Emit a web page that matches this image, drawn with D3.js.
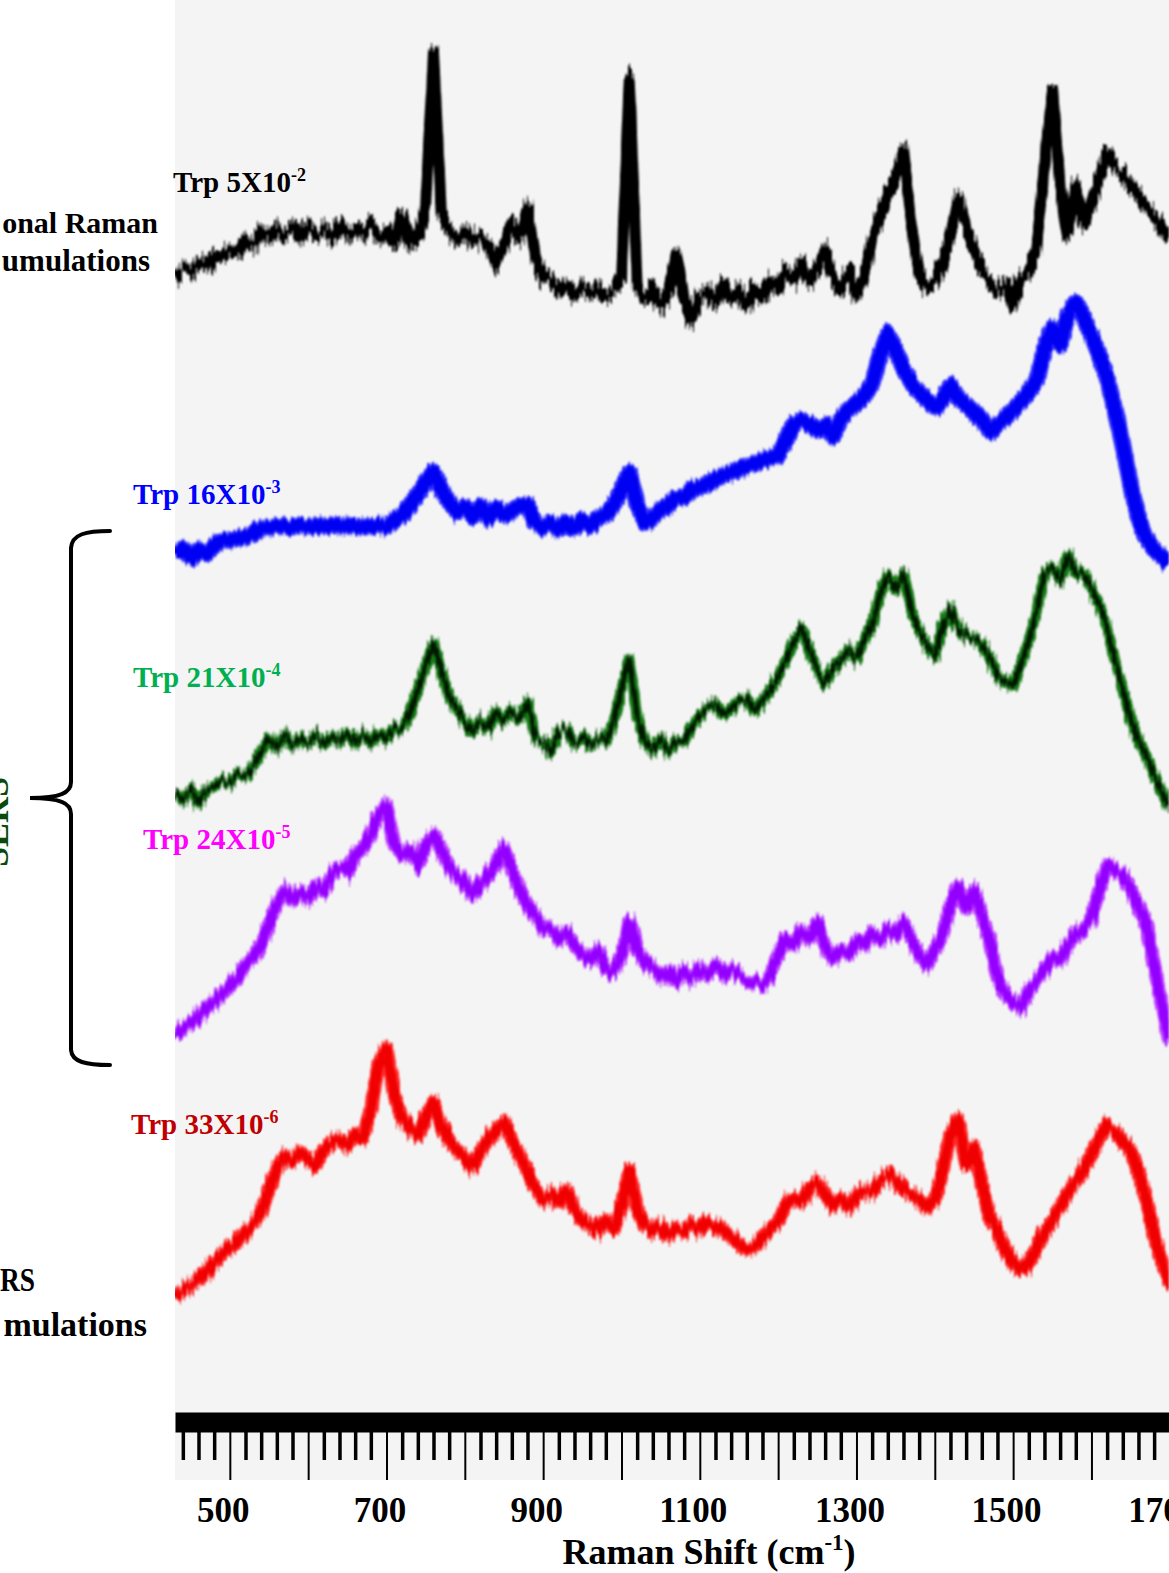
<!DOCTYPE html>
<html lang="en">
  <head>
    <meta charset="utf-8">
    <title>Trp: conventional Raman vs SERS</title>
    <script src="https://cdn.jsdelivr.net/npm/d3@7"></script>
    <style>
      body { margin: 0; background: #fff; }
      svg { display: block; font-family: "Liberation Serif", "Times New Roman", serif; font-weight: bold; }
    </style>
  </head>
  <body>
    <script type="text/javascript">
      // Raman shift grid (cm-1), one sample every 10 cm-1
      var shift = d3.range(430, 1701, 10);

      // intensities (a.u., stacked with offsets as in the figure)
      var trp5e2 = [1205,1212,1208,1218,1214,1225,1222,1230,1228,1238,1234,1248,1242,1254,1244,1252,1242,1255,1244,1250,
        1240,1254,1242,1252,1244,1256,1242,1250,1236,1267,1235,1242,1275,1428,1265,1248,1240,1252,1238,1244,
        1234,1215,1235,1260,1242,1273,1225,1200,1202,1188,1196,1184,1194,1186,1190,1182,1192,1200,1405,1195,
        1180,1192,1174,1188,1227,1180,1160,1184,1190,1176,1198,1180,1188,1174,1192,1182,1198,1190,1210,1200,
        1218,1198,1212,1230,1204,1190,1208,1184,1205,1240,1265,1285,1300,1330,1255,1205,1192,1200,1218,1245,
        1282,1255,1230,1210,1198,1188,1195,1175,1202,1208,1233,1315,1392,1295,1245,1295,1255,1275,1305,1328,
        1312,1308,1295,1285,1272,1262,1252,1240];
      var trp16e3 = [925,932,922,930,926,934,940,940,942,943,946,952,953,953,954,953,954,953,954,953,
        954,953,954,953,954,953,954,954,960,965,975,985,998,1008,990,978,968,973,964,974,
        962,972,964,970,974,975,958,952,956,950,958,952,960,954,962,965,975,990,1008,975,
        958,962,970,975,982,983,990,993,996,1002,1004,1007,1010,1014,1016,1020,1022,1025,1040,1055,
        1060,1056,1050,1055,1043,1062,1070,1077,1084,1095,1125,1147,1130,1110,1097,1088,1080,1072,1080,1095,
        1082,1075,1068,1060,1048,1055,1062,1070,1078,1088,1100,1130,1152,1135,1165,1178,1162,1145,1125,1102,
        1070,1035,995,962,942,930,923,916];
      var trp21e4 = [687,680,690,677,690,694,700,696,706,704,714,728,742,732,744,734,742,736,746,735,
        744,738,746,736,745,737,746,740,750,752,768,790,815,837,808,783,772,758,748,760,
        750,768,758,770,762,778,742,738,728,748,750,736,744,734,742,738,760,790,820,765,
        738,730,742,728,740,738,752,764,772,776,765,772,780,782,768,780,790,805,820,838,
        852,830,810,796,812,820,830,822,840,855,885,905,890,908,870,850,835,824,852,872,
        852,843,842,835,822,805,798,794,815,840,870,905,912,900,925,910,905,892,875,852,
        818,790,762,740,724,705,687,672];
      var trp24e5 = [445,452,458,464,472,478,486,495,502,515,522,536,555,575,590,580,588,582,594,588,
        605,612,608,625,632,645,665,675,635,625,630,614,635,646,630,614,605,595,585,595,
        605,618,632,610,590,575,565,552,550,540,546,535,525,520,530,512,508,525,558,530,
        518,510,502,508,498,510,502,512,505,514,504,512,505,502,498,495,505,525,542,535,
        550,542,558,535,520,530,525,540,535,545,540,550,545,558,542,525,515,530,545,575,
        595,570,590,565,540,502,485,478,472,490,500,510,522,520,535,545,552,562,590,615,
        610,605,590,575,555,515,475,438];
      var trp33e6 = [183,190,195,200,208,218,226,232,238,248,256,268,290,312,324,318,328,320,314,330,
        338,340,334,345,342,370,415,432,385,362,352,344,362,378,355,340,330,322,314,328,
        340,348,358,340,325,308,292,280,285,278,290,270,260,255,248,258,252,275,310,270,
        255,248,254,244,252,248,255,250,258,255,248,242,236,230,234,242,252,258,275,282,
        278,292,298,285,275,282,272,284,290,288,300,305,298,290,286,280,272,280,310,345,
        360,315,332,295,265,248,230,218,210,218,232,248,260,272,288,300,310,325,342,354,
        348,338,330,308,280,245,218,195];

      var seriesNames = ["Trp 5X10-2", "Trp 16X10-3", "Trp 21X10-4", "Trp 24X10-5", "Trp 33X10-6"];
      var seriesValues = [trp5e2, trp16e3, trp21e4, trp24e5, trp33e6];

      // axis ticks
      var majorTicks = d3.range(500, 1701, 100);
      var minorTicks = d3.range(440, 1700, 20).filter(function (d) { return d % 100 !== 0; });
      var tickLabels = [500, 700, 900, 1100, 1300, 1500, 1700];

      "use strict";
      var width = 1169, height = 1573;

      var svg = d3.select("body")
        .append("svg")
          .attr("width", width)
          .attr("height", height);

      var x = d3.scaleLinear().domain([430, 1699]).range([175, 1169]);
      var y = d3.scaleLinear().domain([0, 1480]).range([1480, 0]);

      var defs = svg.append("defs");
      defs.append("clipPath").attr("id", "plotclip")
        .append("rect").attr("x", 175).attr("y", 0).attr("width", 994).attr("height", 1480);

      // detector-noise look: jitter the drawn trace vertically only, then soften
      function noiseFilter(id, amount, seed) {
        var f = defs.append("filter").attr("id", id)
          .attr("filterUnits", "userSpaceOnUse")
          .attr("x", 0).attr("y", 0).attr("width", width).attr("height", height)
          .attr("color-interpolation-filters", "sRGB");
        f.append("feTurbulence")
          .attr("type", "fractalNoise")
          .attr("baseFrequency", "0.55 0.02")
          .attr("numOctaves", 2)
          .attr("seed", seed)
          .attr("result", "n");
        f.append("feColorMatrix")
          .attr("in", "n").attr("type", "matrix")
          .attr("values", "0 0 0 0 0.5  0 1 0 0 0  0 0 0 0 0  0 0 0 0 1")
          .attr("result", "m");
        f.append("feDisplacementMap")
          .attr("in", "SourceGraphic").attr("in2", "m")
          .attr("scale", amount)
          .attr("xChannelSelector", "R").attr("yChannelSelector", "G")
          .attr("result", "d");
        f.append("feGaussianBlur").attr("in", "d").attr("stdDeviation", 0.9);
      }
      noiseFilter("noise0", 30, 2);
      noiseFilter("noise1", 12, 5);
      noiseFilter("noise2", 22, 7);
      noiseFilter("noise3", 22, 11);
      noiseFilter("noise4", 22, 13);

      // grey plot panel
      svg.append("rect")
        .attr("x", 175).attr("y", 0)
        .attr("width", 994).attr("height", 1480)
        .attr("fill", "#f4f4f4");

      /*
        spectra
        */
      var strokes = [
        [{ c: "#000", w: 11 }],
        [{ c: "#3030ff", w: 17 }, { c: "#0000f2", w: 12 }],
        [{ c: "#167a16", w: 11 }, { c: "#001800", w: 5 }],
        [{ c: "#bd40ff", w: 14 }, { c: "#9300ff", w: 9 }],
        [{ c: "#ff2c2c", w: 14 }, { c: "#f00000", w: 9 }]
      ];

      var line = d3.line()
        .x(function (d) { return x(d[0]); })
        .y(function (d) { return y(d[1]); });

      var plot = svg.append("g").attr("clip-path", "url(#plotclip)");

      seriesValues.forEach(function (vals, i) {
        var pts = shift.map(function (s, k) { return [s, vals[k]]; });
        var g = plot.append("g").attr("filter", "url(#noise" + i + ")");
        strokes[i].forEach(function (st) {
          g.append("path")
            .datum(pts)
            .attr("fill", "none")
            .attr("stroke", st.c)
            .attr("stroke-width", st.w)
            .attr("stroke-linejoin", "round")
            .attr("d", line);
        });
      });

      /*
        bottom axis: heavy bar, minor + major ticks
        */
      var axisG = svg.append("g").attr("transform", "translate(0,1422)");

      axisG.append("g")
        .call(d3.axisBottom(x).tickValues(minorTicks).tickSize(38).tickFormat(""))
        .call(function (g) { g.select(".domain").remove(); })
        .selectAll("line")
          .attr("stroke", "#000")
          .attr("stroke-width", 3.5);

      var major = axisG.append("g")
        .call(d3.axisBottom(x).tickValues(majorTicks).tickSize(58).tickSizeOuter(0)
          .tickFormat(function (d) { return tickLabels.indexOf(d) >= 0 ? d : ""; }));
      major.select(".domain")
        .attr("stroke", "#000")
        .attr("stroke-width", 20);
      major.selectAll("line").attr("stroke", "#000").attr("stroke-width", 2);
      major.selectAll("text")
        .attr("y", 100)
        .attr("dy", 0)
        .attr("dx", -7)
        .attr("fill", "#000")
        .style("font-family", "'Liberation Serif', 'Times New Roman', serif")
        .style("font-weight", "bold")
        .style("font-size", "35px");

      // axis title
      var title = svg.append("text")
        .attr("x", 709).attr("y", 1564)
        .attr("text-anchor", "middle")
        .style("font-size", "36px");
      title.append("tspan").text("Raman Shift (cm");
      title.append("tspan").attr("dy", -14).style("font-size", "23px").text("-1");
      title.append("tspan").attr("dy", 14).text(")");

      /*
        series labels with superscript exponents
        */
      var labelSpots = [
        { x: 173, y: 192, c: "#000000" },
        { x: 133, y: 504, c: "#0000ff" },
        { x: 133, y: 687, c: "#00b050" },
        { x: 143, y: 849, c: "#ff00ff" },
        { x: 131, y: 1134, c: "#c00000" }
      ];
      seriesNames.forEach(function (name, i) {
        var parts = name.split("-");
        var t = svg.append("text")
          .attr("x", labelSpots[i].x).attr("y", labelSpots[i].y)
          .attr("fill", labelSpots[i].c)
          .style("font-size", "29px");
        t.append("tspan").text(parts[0]);
        t.append("tspan").attr("dy", -11).style("font-size", "18px").text("-" + parts[1]);
      });

      /*
        left-side annotations (figure is cropped at the left edge)
        */
      svg.append("text").attr("x", 158).attr("y", 233).attr("text-anchor", "end")
        .style("font-size", "30px").text("onal Raman");
      svg.append("text").attr("x", 150).attr("y", 271).attr("text-anchor", "end")
        .style("font-size", "31px").text("umulations");
      svg.append("text").attr("x", 0).attr("y", 1291)
        .attr("textLength", 35).attr("lengthAdjust", "spacingAndGlyphs")
        .style("font-size", "34px").text("RS");
      svg.append("text").attr("x", 147).attr("y", 1336).attr("text-anchor", "end")
        .style("font-size", "34px").text("mulations");
      svg.append("text")
        .attr("transform", "translate(8,822) rotate(-90)")
        .attr("text-anchor", "middle")
        .attr("fill", "#0a4a0a")
        .style("font-size", "36px")
        .text("SERS");

      // curly brace grouping the SERS spectra
      svg.append("path")
        .attr("d", "M110,531 C86,531 72,534 71,548 L71,782 C71,793 60,798 30,798 C60,798 71,803 71,814 L71,1050 C72,1062 86,1065 110,1065")
        .attr("fill", "none")
        .attr("stroke", "#000")
        .attr("stroke-width", 4)
        .attr("stroke-linecap", "round");
    </script>
  </body>
</html>
